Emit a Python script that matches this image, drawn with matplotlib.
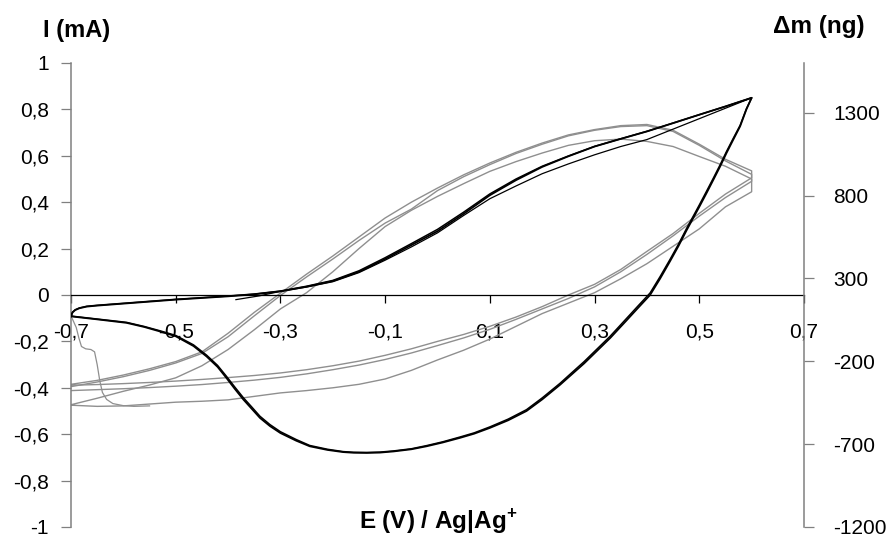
import numpy as np
import matplotlib
matplotlib.use("Agg")
import matplotlib.pyplot as plt
from matplotlib.ticker import FuncFormatter

plt.rcParams['font.family'] = ['Liberation Sans', 'DejaVu Sans']
plt.rcParams['mathtext.fontset'] = 'custom'
plt.rcParams['mathtext.rm'] = 'Liberation Sans'
plt.rcParams['mathtext.bf'] = 'Liberation Sans:bold'
plt.rcParams['axes.unicode_minus'] = False

# potential grids (V)
e_up = [-0.7, -0.65, -0.6, -0.55, -0.5, -0.45, -0.4, -0.35, -0.3, -0.25, -0.2, -0.15, -0.1,
        -0.05, 0.0, 0.05, 0.1, 0.15, 0.2, 0.25, 0.3, 0.35, 0.4, 0.45, 0.5, 0.55, 0.6]
e_dn = e_up[::-1]

# current, grey cycles (mA)
i_a1_up = [-0.385, -0.368, -0.345, -0.318, -0.287, -0.245, -0.165, -0.075, 0.008, 0.09, 0.168,
           0.25, 0.332, 0.40, 0.461, 0.518, 0.569, 0.615, 0.655, 0.69, 0.713, 0.73, 0.735,
           0.71, 0.65, 0.585, 0.535]
i_a1_dn = [0.505, 0.435, 0.352, 0.265, 0.188, 0.11, 0.046, 0.0, -0.05, -0.095, -0.135, -0.17,
           -0.2, -0.232, -0.26, -0.285, -0.305, -0.322, -0.336, -0.347, -0.356, -0.364,
           -0.371, -0.377, -0.382, -0.386, -0.389]
i_a2_up = [-0.395, -0.375, -0.352, -0.325, -0.293, -0.252, -0.18, -0.09, -0.002, 0.078, 0.155,
           0.235, 0.31, 0.37, 0.45, 0.51, 0.562, 0.61, 0.65, 0.686, 0.71, 0.726, 0.73,
           0.705, 0.645, 0.578, 0.52]
i_a2_dn = [0.49, 0.42, 0.34, 0.255, 0.175, 0.10, 0.035, -0.015, -0.06, -0.105, -0.148, -0.185,
           -0.218, -0.25, -0.278, -0.302, -0.322, -0.34, -0.355, -0.367, -0.377, -0.386,
           -0.393, -0.399, -0.404, -0.408, -0.412]
i_b_up = [-0.473, -0.445, -0.415, -0.388, -0.357, -0.305, -0.235, -0.15, -0.06, 0.01, 0.10,
          0.2, 0.295, 0.365, 0.425, 0.48, 0.533, 0.575, 0.612, 0.645, 0.665, 0.672, 0.662,
          0.64, 0.597, 0.555, 0.50]
i_b_dn = [0.445, 0.38, 0.285, 0.21, 0.135, 0.07, 0.01, -0.035, -0.08, -0.135, -0.19, -0.238,
          -0.28, -0.325, -0.362, -0.385, -0.40, -0.412, -0.422, -0.437, -0.452, -0.458,
          -0.462, -0.47, -0.478, -0.48, -0.475]

# first grey sweep (start-up transient)
e_start = [-0.698, -0.695, -0.69, -0.685, -0.68, -0.672, -0.662, -0.655, -0.65, -0.645, -0.64,
           -0.632, -0.62, -0.6, -0.58, -0.55]
i_start = [-0.1, -0.115, -0.14, -0.185, -0.222, -0.232, -0.235, -0.245, -0.3, -0.37, -0.42,
           -0.45, -0.468, -0.477, -0.48, -0.478]

# mass change, black cycles (ng)
em_up = [-0.7, -0.697, -0.692, -0.684, -0.67, -0.65, -0.6, -0.5, -0.4, -0.35, -0.3, -0.25,
         -0.2, -0.15, -0.1, -0.05, 0.0, 0.05, 0.1, 0.15, 0.2, 0.25, 0.3, 0.35, 0.4, 0.45,
         0.5, 0.55, 0.6]
m1_up = [71, 95, 109, 120, 130, 136, 148, 172, 192, 204, 222, 250, 284, 340, 417, 501, 585,
         690, 802, 893, 973, 1037, 1096, 1142, 1187, 1237, 1288, 1338, 1390]
m2_up = [73, 97, 111, 122, 132, 138, 150, 174, 194, 206, 224, 253, 288, 346, 425, 510, 596,
         700, 810, 900, 977, 1039, 1097, 1143, 1188, 1238, 1288, 1338, 1390]
em_dn = [0.6, 0.59, 0.578, 0.565, 0.552, 0.54, 0.527, 0.514, 0.5, 0.488, 0.476, 0.46, 0.444,
         0.425, 0.406, 0.383, 0.36, 0.33, 0.305, 0.28, 0.255, 0.234, 0.2, 0.17, 0.135, 0.1,
         0.07, 0.043, 0.01, -0.021, -0.05, -0.084, -0.11, -0.135, -0.16, -0.18, -0.21, -0.244,
         -0.27, -0.3, -0.32, -0.339, -0.355, -0.371, -0.387, -0.403, -0.42, -0.441, -0.466,
         -0.5, -0.53, -0.56, -0.594, -0.65, -0.7]
m1_dn = [1390, 1320, 1218, 1138, 1057, 977, 896, 816, 732, 662, 592, 494, 403, 298, 200, 122,
         43, -59, -136, -213, -283, -342, -430, -500, -556, -602, -637, -662, -690, -713,
         -731, -744, -751, -753, -752, -748, -735, -713, -679, -633, -591, -542, -486, -430,
         -367, -301, -234, -171, -108, -49, -20, 7, 32, 53, 71]
m2_dn = [1390, 1324, 1224, 1146, 1066, 987, 906, 827, 743, 673, 603, 505, 414, 310, 212, 134,
         55, -48, -125, -202, -273, -333, -421, -492, -549, -596, -632, -657, -686, -709,
         -728, -741, -748, -750, -749, -745, -731, -708, -672, -625, -582, -532, -475, -419,
         -356, -291, -225, -163, -101, -44, -16, 10, 35, 55, 73]

# first black sweep
e_m0 = [-0.385, -0.34, -0.3, -0.25, -0.2, -0.15, -0.1, -0.05, 0.0, 0.05, 0.1, 0.15, 0.2, 0.25,
        0.3, 0.35, 0.4, 0.45, 0.5, 0.55, 0.6]
m0 = [172, 195, 222, 248, 280, 335, 410, 490, 575, 680, 781, 858, 932, 991, 1046, 1096, 1138,
      1201, 1264, 1327, 1390]

left_ticks = [-1, -0.8, -0.6, -0.4, -0.2, 0, 0.2, 0.4, 0.6, 0.8, 1]
x_ticks = [-0.7, -0.5, -0.3, -0.1, 0.1, 0.3, 0.5, 0.7]
right_ticks = [-1200, -700, -200, 300, 800, 1300]


def comma(v, pos=None):
    v = round(v, 2)
    if v == 0:
        return "0"
    return f"{v:g}".replace(".", ",")


fig = plt.figure(figsize=(8.89, 5.41), dpi=100)
ax = fig.add_axes([71 / 889, 14 / 541, 733 / 889, 464 / 541])
grey = '#8f8f8f'
ax.plot(e_start, i_start, color=grey, lw=0.9)
for up, dn in [(i_b_up, i_b_dn), (i_a2_up, i_a2_dn), (i_a1_up, i_a1_dn)]:
    ax.plot(e_up + e_dn, up + dn, color=grey, lw=1.0)

ax.set_xlim(-0.7, 0.7)
ax.set_ylim(-1, 1)
ax.spines['top'].set_visible(False)
ax.spines['right'].set_visible(False)
ax.spines['bottom'].set_position(('data', 0))
ax.spines['bottom'].set_color('black')
ax.spines['bottom'].set_linewidth(0.9)
ax.spines['left'].set_color('#808080')
ax.spines['left'].set_linewidth(1.1)
ax.set_xticks(x_ticks)
ax.set_yticks(left_ticks)
ax.xaxis.set_major_formatter(FuncFormatter(comma))
ax.yaxis.set_major_formatter(FuncFormatter(comma))
ax.tick_params(axis='x', direction='out', length=6, width=0.9, color='black',
               labelsize=15, pad=14)
ax.tick_params(axis='y', direction='out', length=7, width=0.9, color='#808080',
               labelsize=15, pad=9)

ax2 = ax.twinx()
ax2.plot(e_m0, m0, color='black', lw=0.9)
ax2.plot(em_up + em_dn, m2_up + m2_dn, color='black', lw=1.1)
ax2.plot(em_up + em_dn, m1_up + m1_dn, color='black', lw=1.3)
ax2.set_ylim(-1200, 1600)
ax2.set_yticks(right_ticks)
for s in ['top', 'left', 'bottom']:
    ax2.spines[s].set_visible(False)
ax2.spines['right'].set_color('#808080')
ax2.spines['right'].set_linewidth(1.1)
ax2.tick_params(axis='y', direction='out', length=7, width=0.9, color='#808080',
                labelsize=15, pad=14)

fig.text(77 / 889, 1 - 31 / 541, "I (mA)", fontsize=17, fontweight='bold',
         ha='center', va='center')
fig.text(819 / 889, 1 - 26 / 541, "\u0394m (ng)", fontsize=17.5, fontweight='bold',
         ha='center', va='center')
fig.text(438 / 889, 1 - 522 / 541, r"E (V) / Ag|Ag$^{\mathbf{+}}$", fontsize=17.5,
         fontweight='bold', ha='center', va='center')

fig.savefig("out.png", dpi=100)
